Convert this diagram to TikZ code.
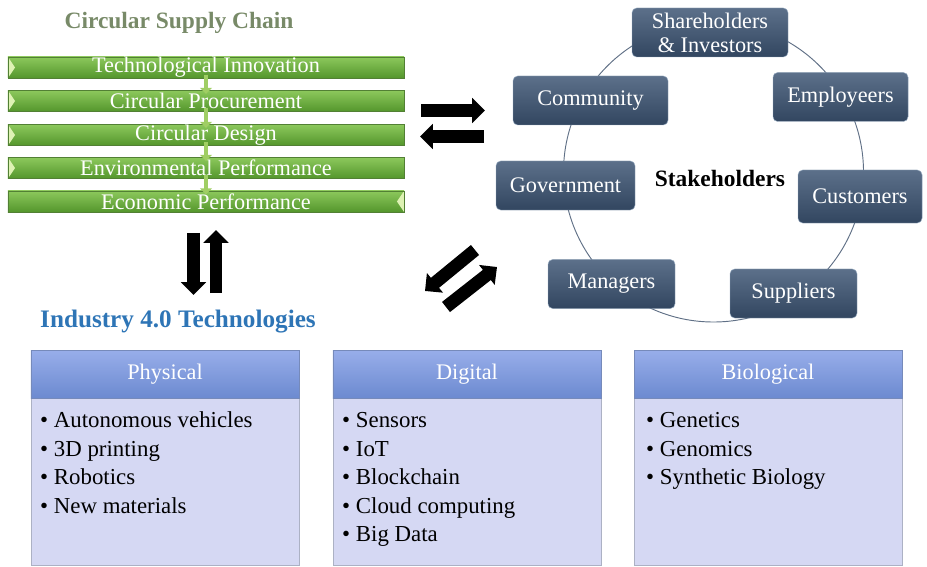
\documentclass[tikz,border=0pt]{standalone}
\usepackage{fontspec}
\setmainfont{Liberation Serif}
\usetikzlibrary{arrows.meta}

\definecolor{chaintitle}{RGB}{120,138,104}
\definecolor{techtitle}{RGB}{46,117,182}
\definecolor{bartop}{RGB}{140,200,92}
\definecolor{barbottom}{RGB}{84,150,44}
\definecolor{barline}{RGB}{82,128,52}
\definecolor{barlight}{RGB}{222,242,180}
\definecolor{flowgreen}{RGB}{160,206,100}
\definecolor{staketop}{RGB}{92,112,138}
\definecolor{stakebottom}{RGB}{50,70,96}
\definecolor{stakeline}{RGB}{150,170,192}
\definecolor{ringline}{RGB}{96,112,134}
\definecolor{headtop}{RGB}{152,174,234}
\definecolor{headbottom}{RGB}{108,138,208}
\definecolor{headline}{RGB}{118,138,186}
\definecolor{bodyfill}{RGB}{213,216,243}
\definecolor{bodyline}{RGB}{172,177,196}

\tikzset{
  chainbar/.style={draw=barline, top color=bartop, bottom color=barbottom,
    minimum width=11.88cm, minimum height=0.63cm, inner sep=0pt, text=white,
    font=\fontsize{19}{22}\selectfont},
  glintleft/.style={path picture={\fill[barlight] (path picture bounding box.north west)
    -- (path picture bounding box.south west) -- ([xshift=6pt]path picture bounding box.west) -- cycle;}},
  glintright/.style={path picture={\fill[barlight] (path picture bounding box.north east)
    -- (path picture bounding box.south east) -- ([xshift=-6pt]path picture bounding box.east) -- cycle;}},
  flow/.style={flowgreen, line width=4pt, -{Triangle[width=10pt,length=5pt]}},
  stake/.style={draw=stakeline, rounded corners=4pt, top color=staketop, bottom color=stakebottom,
    minimum height=1.47cm, inner sep=0pt, text=white, align=center,
    font=\fontsize{19}{20.5}\selectfont},
  ring/.style={ringline, line width=0.8pt},
  bigarrow/.style={black, line width=11pt, -{Triangle[width=21pt,length=11pt]}},
  techhead/.style={draw=headline, top color=headtop, bottom color=headbottom,
    minimum width=8.04cm, minimum height=1.44cm, inner sep=0pt, text=white,
    font=\fontsize{19}{22}\selectfont},
  techbody/.style={draw=bodyline, fill=bodyfill, minimum width=8.04cm, minimum height=5.01cm, inner sep=0pt},
  item/.style={anchor=base west, inner sep=0pt, font=\fontsize{19.5}{23}\selectfont}
}

\begin{document}
\begin{tikzpicture}[x=0.03cm, y=-0.03cm]
        \useasboundingbox (0,0) rectangle (927,567);

        \node[font=\fontsize{20}{24}\selectfont\bfseries, text=chaintitle] (csc) at (179,23) {Circular Supply Chain};

        \node[chainbar, glintleft] (b1) at (206,67.5) {Technological Innovation};
        \node[chainbar, glintleft] (b2) at (206,101) {Circular Procurement};
        \node[chainbar, glintleft] (b3) at (206,135) {Circular Design};
        \node[chainbar, glintleft] (b4) at (206,168) {Environmental Performance};
        \node[chainbar, glintright] (b5) at (206,201.5) {Economic Performance};

        \draw[flow] ([yshift=3pt]b1.south) -- ([yshift=-3pt]b2.north);
        \draw[flow] ([yshift=3pt]b2.south) -- ([yshift=-3pt]b3.north);
        \draw[flow] ([yshift=3pt]b3.south) -- ([yshift=-3pt]b4.north);
        \draw[flow] ([yshift=3pt]b4.south) -- ([yshift=-3pt]b5.north);

        \coordinate (ring) at (713.5,172);
        \draw[ring] (ring) circle[radius=4.5cm];

        \node[stake, minimum width=4.68cm] (sh) at (710,32.5) {Shareholders\\\& Investors};
        \node[stake, minimum width=4.05cm] (emp) at (840.5,97) {Employeers};
        \node[stake, minimum width=3.72cm, minimum height=1.59cm] (cus) at (860,196.5) {Customers};
        \node[stake, minimum width=3.81cm] (sup) at (793.5,293.5) {Suppliers};
        \node[stake, minimum width=3.81cm] (man) at (611.5,284) {Managers};
        \node[stake, minimum width=4.17cm] (gov) at (565.5,185.5) {Government};
        \node[stake, minimum width=4.65cm] (com) at (590.5,100.5) {Community};

        \node[font=\fontsize{20}{24}\selectfont\bfseries] (stk) at (720,178) {Stakeholders};

        \coordinate (h1) at (421,110.5);
        \coordinate (h2) at (485,110.5);
        \coordinate (h3) at (484,136.5);
        \coordinate (h4) at (420,136.5);
        \draw[bigarrow] (h1) -- (h2);
        \draw[bigarrow] (h3) -- (h4);

        \coordinate (v1) at (193.5,233);
        \coordinate (v2) at (193.5,295);
        \coordinate (v3) at (216,293);
        \coordinate (v4) at (216,230);
        \draw[bigarrow] (v1) -- (v2);
        \draw[bigarrow] (v3) -- (v4);

        \coordinate (d1) at (475,250);
        \coordinate (d2) at (425,291);
        \coordinate (d3) at (446,307);
        \coordinate (d4) at (497,267);
        \draw[bigarrow] (d1) -- (d2);
        \draw[bigarrow] (d3) -- (d4);

        \node[font=\fontsize{21.5}{26}\selectfont\bfseries, text=techtitle] (ind) at (178,322) {Industry 4.0 Technologies};

        \node[techbody] (phys) at (165,481.5) {};
        \node[techhead] (physh) at (165,374) {Physical};
        \node[techbody] (digi) at (467,481.5) {};
        \node[techhead] (digih) at (467,374) {Digital};
        \node[techbody] (bio) at (768,481.5) {};
        \node[techhead] (bioh) at (768,374) {Biological};

        \foreach \t [count=\i] in {Autonomous vehicles, 3D printing, Robotics, New materials}
            \node[item] (phys-\i) at (40,399.5+28.4*\i) {\textbullet\ \t};
        \foreach \t [count=\i] in {Sensors, IoT, Blockchain, Cloud computing, Big Data}
            \node[item] (digi-\i) at (342,399.5+28.4*\i) {\textbullet\ \t};
        \foreach \t [count=\i] in {Genetics, Genomics, Synthetic Biology}
            \node[item] (bio-\i) at (646,399.5+28.4*\i) {\textbullet\ \t};
\end{tikzpicture}
\end{document}
